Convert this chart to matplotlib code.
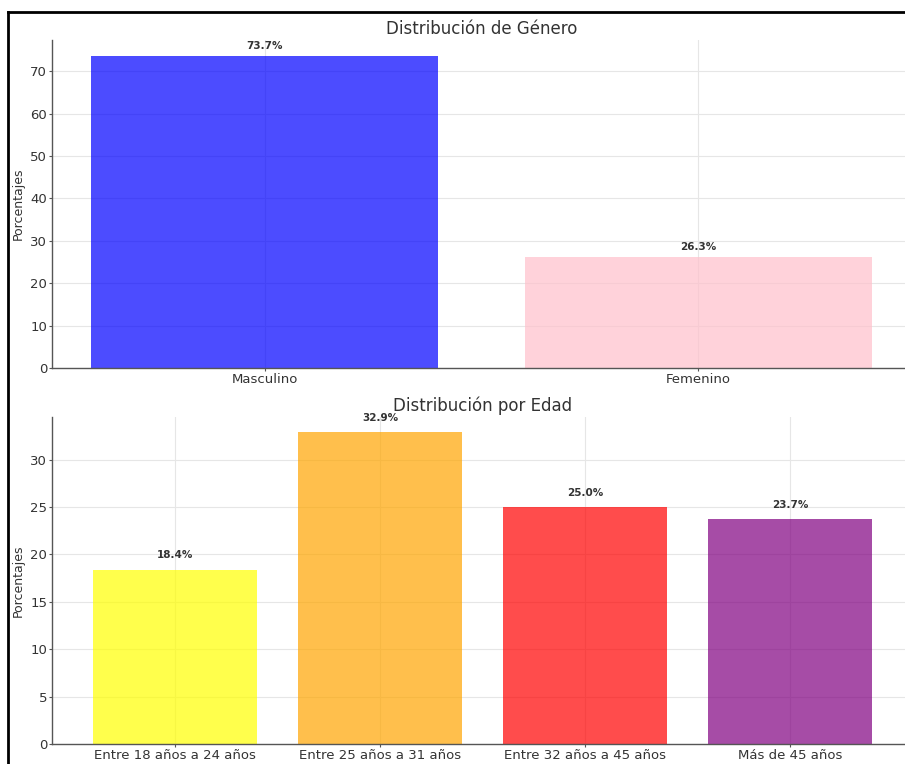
import matplotlib
matplotlib.use('Agg')
import matplotlib.pyplot as plt
from matplotlib.lines import Line2D

# datos de género
genero = ['Masculino', 'Femenino']
genero_pct = [73.7, 26.3]
genero_colores = ['blue', 'pink']

# datos de edad
edades = ['Entre 18 años a 24 años', 'Entre 25 años a 31 años',
          'Entre 32 años a 45 años', 'Más de 45 años']
edades_pct = [18.4, 32.9, 25.0, 23.7]
edades_colores = ['yellow', 'orange', 'red', 'purple']

W, H = 905, 764
fig = plt.figure(figsize=(W / 100, H / 100), dpi=100)

def px_axes(x0, y0, x1, y1):
    # pixel box -> figure fraction
    return fig.add_axes([x0 / W, 1 - y1 / H, (x1 - x0) / W, (y1 - y0) / H])

ax1 = px_axes(52, 40, 911, 368)
ax2 = px_axes(52, 417, 913, 744)

def estilo(ax):
    for s in ['top', 'right']:
        ax.spines[s].set_visible(False)
    for s in ['left', 'bottom']:
        ax.spines[s].set_color('#555555')
        ax.spines[s].set_linewidth(1.0)
    ax.set_axisbelow(True)
    ax.grid(True, color='#e6e6e6', linewidth=0.8)
    ax.tick_params(colors='#555555', labelcolor='#333333', labelsize=9.5, length=2.5, pad=1)
    ax.set_ylabel('Porcentajes', fontsize=9, color='#333333', labelpad=4)

# gráfico de género
ax1.bar(genero, genero_pct, color=genero_colores, alpha=0.7)
for i, v in enumerate(genero_pct):
    ax1.text(i, v + 1, f'{v:.1f}%', ha='center', va='bottom', fontsize=7.5,
             fontweight='bold', color='#333333')
ax1.set_title('Distribución de Género', fontsize=12, color='#333333', pad=4)
estilo(ax1)
ax1.set_ylim(0, 77.4)
ax1.set_xlim(-0.49, 1.49)

# gráfico de edad
ax2.bar(edades, edades_pct, color=edades_colores, alpha=0.7)
for i, v in enumerate(edades_pct):
    ax2.text(i, v + 1, f'{v:.1f}%', ha='center', va='bottom', fontsize=7.5,
             fontweight='bold', color='#333333')
ax2.set_title('Distribución por Edad', fontsize=12, color='#333333', pad=4)
estilo(ax2)
ax2.set_ylim(0, 34.5)
ax2.set_xlim(-0.6, 3.6)

# marco negro de la captura
fig.add_artist(Line2D([8 / W, 1.0], [1 - 12 / H, 1 - 12 / H], color='black', linewidth=2))
fig.add_artist(Line2D([8 / W, 8 / W], [0, 1 - 12 / H], color='black', linewidth=2))

fig.savefig('out.png', dpi=100)
